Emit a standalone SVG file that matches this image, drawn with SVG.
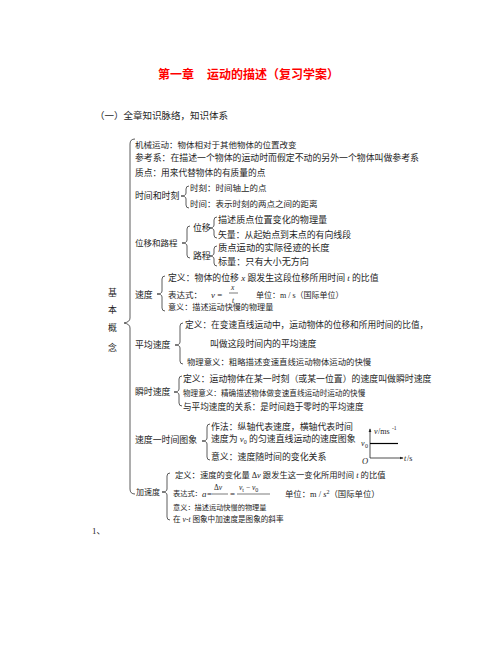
<svg xmlns="http://www.w3.org/2000/svg" width="501" height="649" viewBox="0 0 501 649">
<style>
text{font-family:"Liberation Serif","Noto Sans CJK SC",serif;font-size:8.9px;fill:#1e1e1e}
.title{font-family:"Noto Sans CJK SC",sans-serif;font-size:12px;font-weight:bold;fill:#f00}
.h{font-size:9.5px}
.i{font-style:italic}
.s{font-size:6px}
.fr{font-size:7.5px}
.b{fill:none;stroke:#333;stroke-width:0.8}
.ax{fill:none;stroke:#222;stroke-width:0.8}
.bar{stroke:#222;stroke-width:0.6}
.v0{stroke:#000;stroke-width:1.2}
</style>
<defs>
<marker id="ar" viewBox="0 0 6 6" refX="5" refY="3" markerWidth="5" markerHeight="5" orient="auto">
<path d="M0,0.8 L6,3 L0,5.2 z" fill="#222"/>
</marker>
</defs>
<rect width="501" height="649" fill="#fff"/>

<g id="title">
<text class="title" x="158" y="79">第一章</text>
<text class="title" x="207" y="79">运动的描述（复习学案）</text>
</g>
<text class="h" x="95" y="119">（一）全章知识脉络，知识体系</text>

<g id="connectors">
<path class="b" d="M135,139 Q130,139 130,144 L130,318 Q130,322 124,323 Q130,324 130,328 L130,489 Q130,494 135,494"/>
<path class="b" d="M189,186 Q186,186 186,189 L186,193 Q186,196 181,196 Q186,196 186,199 L186,205 Q186,208 189,208"/>
<path class="b" d="M190,226 Q187,226 187,229 L187,240 Q187,243 182,243 Q187,243 187,246 L187,255 Q187,258 190,258"/>
<path class="b" d="M217,217 Q214,217 214,220 L214,225 Q214,228 209,228 Q214,228 214,231 L214,235 Q214,238 217,238"/>
<path class="b" d="M217,246 Q214,246 214,249 L214,253 Q214,256 209,256 Q214,256 214,259 L214,263 Q214,266 217,266"/>
<path class="b" d="M165,276 Q162,276 162,279 L162,291 Q162,294 157,294 Q162,294 162,297 L162,308 Q162,311 165,311"/>
<path class="b" d="M183,323 Q180,323 180,326 L180,342 Q180,345 175,345 Q180,345 180,348 L180,361 Q180,364 183,364"/>
<path class="b" d="M182,376 Q179,376 179,379 L179,389 Q179,392 174,392 Q179,392 179,395 L179,403 Q179,406 182,406"/>
<path class="b" d="M210,424 Q207,424 207,427 L207,438 Q207,441 202,441 Q207,441 207,444 L207,457 Q207,460 210,460"/>
<path class="b" d="M170,473 Q167,473 167,476 L167,489 Q167,492 162,492 Q167,492 167,495 L167,517 Q167,520 170,520"/>
</g>

<g id="jibengainian">
<text x="108" y="296">基</text>
<text x="108" y="313">本</text>
<text x="108" y="331">概</text>
<text x="108" y="351">念</text>
</g>

<g id="jixieyundong"><text x="135" y="148" style="font-size:8.5px">机械运动：物体相对于其他物体的位置改变</text></g>
<g id="cankaoxi"><text x="135" y="161">参考系：在描述一个物体的运动时而假定不动的另外一个物体叫做参考系</text></g>
<g id="zhidian"><text x="135" y="176" style="font-size:8.7px">质点：用来代替物体的有质量的点</text></g>

<g id="shijianheshike">
<text x="135" y="199">时间和时刻</text>
<text x="190" y="191" style="font-size:8.5px">时刻：时间轴上的点</text>
<text x="190" y="207" style="font-size:8.5px">时间：表示时刻的两点之间的距离</text>
</g>

<g id="weiyiheluchen">
<text x="135" y="246" style="font-size:8.5px">位移和路程</text>
<text x="193" y="231">位移</text>
<text x="218" y="223" style="font-size:9.1px">描述质点位置变化的物理量</text>
<text x="218" y="238">矢量：从起始点到末点的有向线段</text>
<text x="193" y="259">路程</text>
<text x="218" y="251" style="font-size:9.3px">质点运动的实际径迹的长度</text>
<text x="218" y="265" style="font-size:9.1px">标量：只有大小无方向</text>
</g>

<g id="sudu">
<text x="135" y="298">速度</text>
<text x="168" y="281">定义：物体的位移 <tspan class="i">x</tspan> 跟发生这段位移所用时间 <tspan class="i">t</tspan> 的比值</text>
<text x="168" y="298" style="font-size:8.5px">表达式：</text>
<text x="211" y="298"><tspan class="i">v</tspan> =</text>
<text class="i fr" x="231" y="290">x</text>
<line class="bar" x1="229" y1="293" x2="238" y2="293"/>
<text class="i fr" x="232" y="302.5">t</text>
<text x="256" y="298" style="font-size:8px">单位：m / s（国际单位）</text>
<text x="168" y="310" style="font-size:8.1px">意义：描述运动快慢的物理量</text>
</g>

<g id="pingjunsudu">
<text x="135" y="348">平均速度</text>
<text x="185" y="328" style="font-size:8.7px">定义：在变速直线运动中，运动物体的位移和所用时间的比值，</text>
<text x="210" y="347">叫做这段时间内的平均速度</text>
<text x="187" y="365" style="font-size:8.4px">物理意义：粗略描述变速直线运动物体运动的快慢</text>
</g>

<g id="shunshisudu">
<text x="135" y="395">瞬时速度</text>
<text x="183" y="382">定义：运动物体在某一时刻（或某一位置）的速度叫做瞬时速度</text>
<text x="183" y="396" style="font-size:7.6px">物理意义：精确描述物体做变速直线运动时运动的快慢</text>
<text x="183" y="410" style="font-size:8.6px">与平均速度的关系：是时间趋于零时的平均速度</text>
</g>

<g id="vttuxiang">
<text x="135" y="443">速度一时间图象</text>
<text x="211" y="430">作法：纵轴代表速度，横轴代表时间</text>
<text x="211" y="442">速度为 <tspan class="i">v</tspan><tspan class="s" dy="1.5">0</tspan><tspan dy="-1.5"> 的匀速直线运动的速度图象</tspan></text>
<text x="211" y="460">意义：速度随时间的变化关系</text>
</g>

<g id="graph">
<line class="ax" x1="370" y1="458" x2="370" y2="429" marker-end="url(#ar)"/>
<line class="ax" x1="370" y1="458" x2="403" y2="458" marker-end="url(#ar)"/>
<line class="v0" x1="370" y1="443.5" x2="398" y2="443.5"/>
<text class="i" x="374" y="434" style="font-size:8px">v</text>
<text x="378" y="434" style="font-size:8px">/ms</text>
<text class="s" x="392" y="430" style="font-size:5.5px">-1</text>
<text class="i" x="361" y="446" style="font-size:8px">v</text>
<text class="s" x="365" y="448">0</text>
<text class="i" x="362" y="464" style="font-size:8.5px">O</text>
<text class="i" x="404" y="461" style="font-size:8px">t</text>
<text x="407" y="461" style="font-size:8px">/s</text>
</g>

<g id="jiasudu">
<text x="136" y="495" style="font-size:8px">加速度</text>
<text x="175" y="478" style="font-size:8.3px">定义：速度的变化量 Δ<tspan class="i">v</tspan> 跟发生这一变化所用时间 <tspan class="i">t</tspan> 的比值</text>
<text x="173" y="496" style="font-size:7.2px">表达式：</text>
<text class="i" x="202" y="497">a</text>
<text x="207" y="497">=</text>
<text class="fr" x="214" y="490">Δ<tspan class="i">v</tspan></text>
<line class="bar" x1="212" y1="494" x2="228" y2="494"/>
<text x="230" y="497">=</text>
<text class="fr" x="239" y="490"><tspan class="i">v</tspan><tspan class="s" dy="1.5">t</tspan><tspan dy="-1.5"> − </tspan><tspan class="i">v</tspan><tspan class="s" dy="1.5">0</tspan></text>
<line class="bar" x1="237" y1="494" x2="270" y2="494"/>
<text x="285" y="497" style="font-size:8.4px">单位：m / <tspan class="i">s</tspan><tspan class="s" dy="-3">2</tspan><tspan dy="3">（国际单位）</tspan></text>
<text x="173" y="510" style="font-size:7.2px">意义：描述运动快慢的物理量</text>
<text x="173" y="522" style="font-size:7.6px">在 <tspan class="i">v</tspan>-<tspan class="i">t</tspan> 图象中加速度是图象的斜率</text>
</g>

<text x="92" y="534">1、</text>
</svg>
